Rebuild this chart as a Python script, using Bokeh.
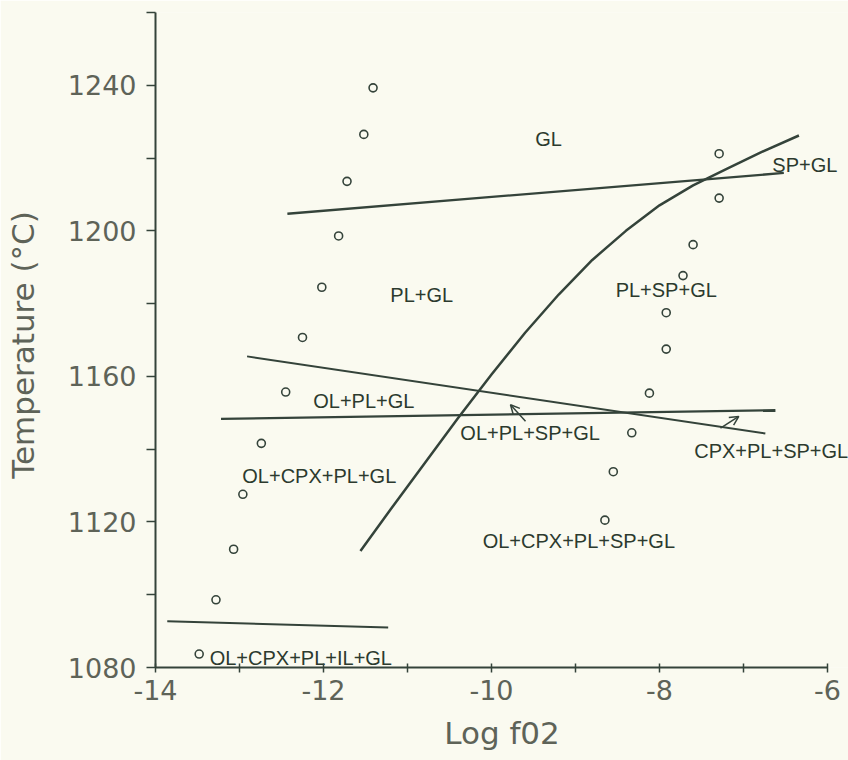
from bokeh.plotting import figure
from bokeh.models import ColumnDataSource, FixedTicker, Arrow, OpenHead, Range1d
from bokeh.core.properties import value
from bokeh.embed import file_html
from bokeh.resources import INLINE

# Experimental runs: log fO2 vs temperature (two buffer series)
run_a_logfo2 = [-11.41, -11.52, -11.72, -11.82, -12.02, -12.25, -12.45,
                -12.74, -12.96, -13.07, -13.28, -13.48]
run_a_temp = [1239.3, 1226.5, 1213.6, 1198.6, 1184.5, 1170.7, 1155.7,
              1141.6, 1127.6, 1112.5, 1098.6, 1083.7]
run_b_logfo2 = [-7.29, -7.29, -7.60, -7.72, -7.92, -7.92, -8.12, -8.33, -8.55, -8.65]
run_b_temp = [1221.2, 1209.0, 1196.2, 1187.7, 1177.5, 1167.5, 1155.4, 1144.5, 1133.8, 1120.5]

# Phase boundaries
pl_in_x = [-12.43, -6.52]
pl_in_t = [1204.7, 1215.9]
ol_out_x = [-12.91, -6.74]
ol_out_t = [1165.5, 1144.3]
cpx_in_x = [-13.22, -6.62]
cpx_in_t = [1148.3, 1150.7]
il_in_x = [-13.86, -11.23]
il_in_t = [1092.7, 1091.0]
sp_in_x = [-11.56, -11.2, -10.8, -10.4, -10.0, -9.6, -9.2, -8.8, -8.4,
           -8.0, -7.6, -7.2, -6.8, -6.34]
sp_in_t = [1112.0, 1123.5, 1136.0, 1148.5, 1160.5, 1172.0, 1182.5, 1192.0,
           1200.0, 1207.0, 1212.5, 1217.0, 1221.5, 1226.2]

# Phase-field labels
field_names = ["GL", "SP+GL", "PL+GL", "PL+SP+GL", "OL+PL+GL", "OL+PL+SP+GL",
               "CPX+PL+SP+GL", "OL+CPX+PL+GL", "OL+CPX+PL+SP+GL", "OL+CPX+PL+IL+GL"]
field_x = [-9.32, -6.27, -10.83, -7.92, -11.52, -9.54, -6.67, -12.05, -8.96, -12.27]
field_t = [1225.2, 1218.1, 1182.5, 1183.8, 1153.2, 1144.4, 1139.5, 1132.6, 1114.8, 1082.7]

# Pointer arrows from labels into the narrow fields
arrow_x0 = [-9.595, -7.274]
arrow_t0 = [1147.7, 1145.8]
arrow_x1 = [-9.774, -7.056]
arrow_t1 = [1152.2, 1149.0]

x_ticks = list(range(-14, -5))
x_labels = {t: (str(t) if t % 2 == 0 else "") for t in x_ticks}
t_ticks = list(range(1080, 1261, 20))
t_labels = {t: (str(t) if (t - 1080) % 40 == 0 and t < 1260 else "") for t in t_ticks}

ink = "#34433a"
paper = "#fafaf0"
label_grey = "#5e6358"

p = figure(width=848, height=760, output_backend="svg", toolbar_location=None,
           x_range=Range1d(-14, -5.75), y_range=Range1d(1080, 1260),
           min_border_left=155, min_border_right=0, min_border_top=12,
           min_border_bottom=93)
p.background_fill_color = paper
p.border_fill_color = paper
p.outline_line_color = None
p.xgrid.visible = False
p.ygrid.visible = False

p.xaxis.ticker = FixedTicker(ticks=x_ticks)
p.xaxis.major_label_overrides = x_labels
p.xaxis.bounds = (-14, -6)
p.yaxis.ticker = FixedTicker(ticks=t_ticks)
p.yaxis.major_label_overrides = t_labels
p.xaxis.minor_tick_line_color = None
p.yaxis.minor_tick_line_color = None

for ax in (p.xaxis, p.yaxis):
    ax.axis_line_color = ink
    ax.axis_line_width = 2
    ax.major_tick_line_color = ink
    ax.major_tick_line_width = 1.5
    ax.major_label_text_font = "DejaVu Sans"
    ax.major_label_text_font_size = "27px"
    ax.major_label_text_color = label_grey
    ax.axis_label_text_font = "DejaVu Sans"
    ax.axis_label_text_font_style = "normal"
    ax.axis_label_text_color = label_grey

p.xaxis.major_tick_in = 4
p.xaxis.major_tick_out = 5
p.xaxis.major_label_standoff = 7
p.xaxis.axis_label = "Log f02"
p.xaxis.axis_label_text_font_size = "31px"
p.xaxis.axis_label_standoff = 12

p.yaxis.major_tick_in = 0
p.yaxis.major_tick_out = 9
p.yaxis.major_label_standoff = 10
p.yaxis.axis_label = "Temperature  (\u00b0C)"
p.yaxis.axis_label_text_font_size = "31px"
p.yaxis.axis_label_standoff = 24

# boundaries
p.line(pl_in_x, pl_in_t, line_color=ink, line_width=2.3)
p.line(ol_out_x, ol_out_t, line_color=ink, line_width=2.0)
p.line(cpx_in_x, cpx_in_t, line_color=ink, line_width=2.3)
p.line(il_in_x, il_in_t, line_color=ink, line_width=2.1)
p.line(sp_in_x, sp_in_t, line_color=ink, line_width=2.5, line_join="round")

# experimental runs
p.scatter(run_a_logfo2, run_a_temp, marker="circle", size=8, fill_color=None,
          line_color=ink, line_width=1.6)
p.scatter(run_b_logfo2, run_b_temp, marker="circle", size=8, fill_color=None,
          line_color=ink, line_width=1.6)

src = ColumnDataSource(dict(x=field_x, y=field_t, text=field_names))
p.text(x="x", y="y", text="text", source=src, text_align="center",
       text_baseline="middle", text_font=value("Liberation Sans"),
       text_font_size="20px", text_color="#2c3a2e")

for x0, y0, x1, y1 in zip(arrow_x0, arrow_t0, arrow_x1, arrow_t1):
    p.add_layout(Arrow(x_start=x0, y_start=y0, x_end=x1, y_end=y1,
                       line_color=ink, line_width=1.5,
                       end=OpenHead(size=9, line_color=ink, line_width=1.5)))

open("out.html", "w").write(file_html(p, INLINE))
